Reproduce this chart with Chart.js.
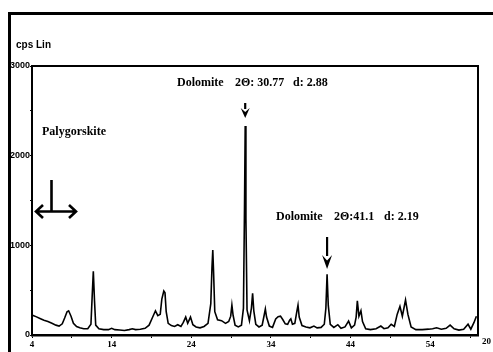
<!DOCTYPE html>
<html>
<head>
<meta charset="utf-8">
<script src="https://cdn.jsdelivr.net/npm/chart.js@4.4.0/dist/chart.umd.min.js"></script>
<style>
  html, body { margin: 0; padding: 0; background: #fff; }
  #wrap { width: 493px; height: 352px; position: relative; }
</style>
</head>
<body>
<div id="wrap"><canvas id="xrd" width="493" height="352"></canvas></div>
<script>
// 2-theta positions (deg) and intensities (cps)
const twoTheta = [
  4.0, 4.5, 5.0, 5.5, 6.0, 6.5, 7.0, 7.4, 7.8, 8.1, 8.4, 8.6, 8.9, 9.2, 9.6, 10.0, 10.5, 11.0,
  11.4, 11.55, 11.7, 11.85, 12.0, 12.4, 13.0, 13.6, 14.0, 14.4, 15.0, 15.6, 16.2, 16.6, 17.0,
  17.6, 18.2, 18.7, 19.1, 19.5, 19.8, 20.1, 20.3, 20.55, 20.7, 20.85, 21.1, 21.5, 21.9, 22.3,
  22.7, 23.0, 23.3, 23.55, 23.9, 24.2, 24.6, 25.1, 25.6, 26.1, 26.45, 26.6, 26.7, 26.8, 26.95,
  27.3, 27.8, 28.3, 28.7, 28.95, 29.1, 29.25, 29.5, 29.9, 30.3, 30.55, 30.68, 30.77, 30.86,
  31.0, 31.3, 31.55, 31.7, 31.85, 32.1, 32.5, 32.9, 33.15, 33.3, 33.45, 33.8, 34.2, 34.6, 34.9,
  35.2, 35.5, 35.8, 36.1, 36.35, 36.5, 36.7, 37.0, 37.25, 37.4, 37.55, 37.9, 38.4, 38.9, 39.4,
  39.8, 40.3, 40.7, 40.9, 41.05, 41.2, 41.45, 41.9, 42.4, 42.8, 43.3, 43.75, 44.1, 44.5, 44.7,
  44.85, 45.05, 45.3, 45.5, 45.9, 46.5, 47.2, 47.8, 48.2, 48.7, 49.1, 49.5, 49.85, 50.2, 50.5,
  50.9, 51.2, 51.6, 52.2, 53.0, 53.8, 54.3, 54.8, 55.4, 56.0, 56.5, 57.0, 57.6, 58.2, 58.75,
  59.1, 59.5, 59.8
];
const cps = [
  222, 205, 185, 165, 150, 130, 110, 100, 125, 190, 260, 270, 210, 130, 95, 80, 70, 70,
  120, 420, 710, 380, 110, 70, 60, 60, 75, 60, 55, 50, 60, 70, 60,
  65, 75, 110, 190, 270, 215, 230, 400, 490, 470, 260, 130, 105, 95, 115,
  95, 140, 200, 130, 200, 115, 90, 80, 95, 130, 350, 760, 948, 700, 260,
  170, 160, 130, 150, 210, 333, 220, 110, 90, 110, 300, 1400, 2330, 1300,
  280, 160, 300, 464, 270, 120, 90, 110, 220, 290, 200, 100, 85, 180, 205,
  210, 170, 125, 120, 165, 180, 120, 130, 260, 333, 200, 105, 90, 80, 100,
  80, 85, 120, 300, 678, 330, 120, 85, 115, 75, 90, 155, 80, 110, 200,
  380, 210, 270, 150, 70, 60, 70, 100, 70, 80, 120, 95, 230, 320, 210,
  390, 230, 90, 60, 60, 65, 70, 80, 65, 75, 110, 70, 55, 65, 120,
  65, 140, 210
];

// axis settings
const xMin = 4, xMax = 60;
const yMin = 0, yMax = 3000;
const xTicks = [4, 9, 14, 19, 24, 29, 34, 39, 44, 49, 54, 59];
const xLabels = [4, 14, 24, 34, 44, 54];
const yTicks = [0, 500, 1000, 1500, 2000, 2500, 3000];
const yLabels = [0, 1000, 2000, 3000];

const serif = '"Liberation Serif", "DejaVu Serif", serif';
const sans = '"Liberation Sans", Arial, sans-serif';

// frame, captions and arrows drawn around the plot
const decor = {
  id: 'decor',
  afterDraw(chart) {
    const ctx = chart.ctx;
    const area = chart.chartArea;
    const xs = chart.scales.x;
    ctx.save();
    ctx.strokeStyle = '#000';
    ctx.fillStyle = '#000';

    // outer frame
    ctx.lineWidth = 3;
    ctx.beginPath();
    ctx.moveTo(9.5, 360);
    ctx.lineTo(9.5, 13.5);
    ctx.lineTo(500, 13.5);
    ctx.stroke();

    // plot box top / right
    ctx.lineWidth = 2;
    ctx.beginPath();
    ctx.moveTo(area.left, area.top);
    ctx.lineTo(area.right, area.top);
    ctx.lineTo(area.right, area.bottom);
    ctx.stroke();

    ctx.font = 'bold 10px ' + sans;
    ctx.textBaseline = 'middle';
    ctx.fillText('cps Lin', 16, 45);

    ctx.font = 'bold 9px ' + serif;
    ctx.fillText('20', 482, 342);

    ctx.font = 'bold 12px ' + serif;
    ctx.fillText('Dolomite', 177, 83);
    ctx.fillText('2\u0398: 30.77', 235, 83);
    ctx.fillText('d: 2.88', 293, 83);

    ctx.fillText('Dolomite', 276, 217);
    ctx.fillText('2\u0398:41.1', 334, 217);
    ctx.fillText('d: 2.19', 384, 217);

    ctx.fillText('Palygorskite', 42, 132);

    // arrows pointing at the two dolomite reflections
    function downArrow(x, y0, y1, hw, hl) {
      ctx.lineWidth = 2.2;
      ctx.beginPath();
      ctx.moveTo(x, y0);
      ctx.lineTo(x, y1 - hl + 1);
      ctx.stroke();
      ctx.beginPath();
      ctx.moveTo(x, y1);
      ctx.lineTo(x - hw, y1 - hl);
      ctx.lineTo(x, y1 - hl * 0.6);
      ctx.lineTo(x + hw, y1 - hl);
      ctx.closePath();
      ctx.fill();
    }
    downArrow(xs.getPixelForValue(30.77), 103, 118, 4.5, 10);
    downArrow(xs.getPixelForValue(41.05), 237, 269, 5, 14);

    // palygorskite region marker
    ctx.lineWidth = 2.6;
    ctx.beginPath();
    ctx.moveTo(51.5, 180);
    ctx.lineTo(51.5, 211.5);
    ctx.moveTo(36, 211.5);
    ctx.lineTo(76, 211.5);
    ctx.moveTo(43, 205);
    ctx.lineTo(36, 211.5);
    ctx.lineTo(43, 218);
    ctx.moveTo(69, 205);
    ctx.lineTo(76, 211.5);
    ctx.lineTo(69, 218);
    ctx.stroke();
    ctx.restore();
  }
};

new Chart(document.getElementById('xrd'), {
  type: 'line',
  data: {
    datasets: [{
      data: twoTheta.map((t, i) => ({ x: t, y: cps[i] })),
      borderColor: '#000',
      borderWidth: 1.6,
      pointRadius: 0,
      tension: 0,
      fill: false
    }]
  },
  options: {
    responsive: false,
    animation: false,
    layout: { padding: { left: 10, top: 66, right: 15, bottom: 0 } },
    plugins: { legend: { display: false }, tooltip: { enabled: false } },
    scales: {
      x: {
        type: 'linear',
        min: xMin,
        max: xMax,
        afterBuildTicks: s => { s.ticks = xTicks.map(v => ({ value: v })); },
        afterFit: s => { s.height = 17; },
        grid: { display: true, drawOnChartArea: false, drawTicks: true, tickLength: 3, color: '#000', lineWidth: 1 },
        border: { display: true, color: '#000', width: 2.5 },
        ticks: {
          autoSkip: false,
          maxRotation: 0,
          padding: 1,
          color: '#000',
          font: { family: serif, size: 9, weight: 'bold' },
          callback: v => xLabels.includes(v) ? String(v) : ''
        }
      },
      y: {
        min: yMin,
        max: yMax,
        afterBuildTicks: s => { s.ticks = yTicks.map(v => ({ value: v })); },
        afterFit: s => { s.width = 22; },
        grid: { display: true, drawOnChartArea: false, drawTicks: true, tickLength: 2, color: '#000', lineWidth: 1 },
        border: { display: true, color: '#000', width: 2 },
        ticks: {
          autoSkip: false,
          padding: 0,
          color: '#000',
          font: { family: sans, size: 9, weight: 'bold' },
          callback: v => yLabels.includes(v) ? String(v) : ''
        }
      }
    }
  },
  plugins: [decor]
});
</script>
</body>
</html>
